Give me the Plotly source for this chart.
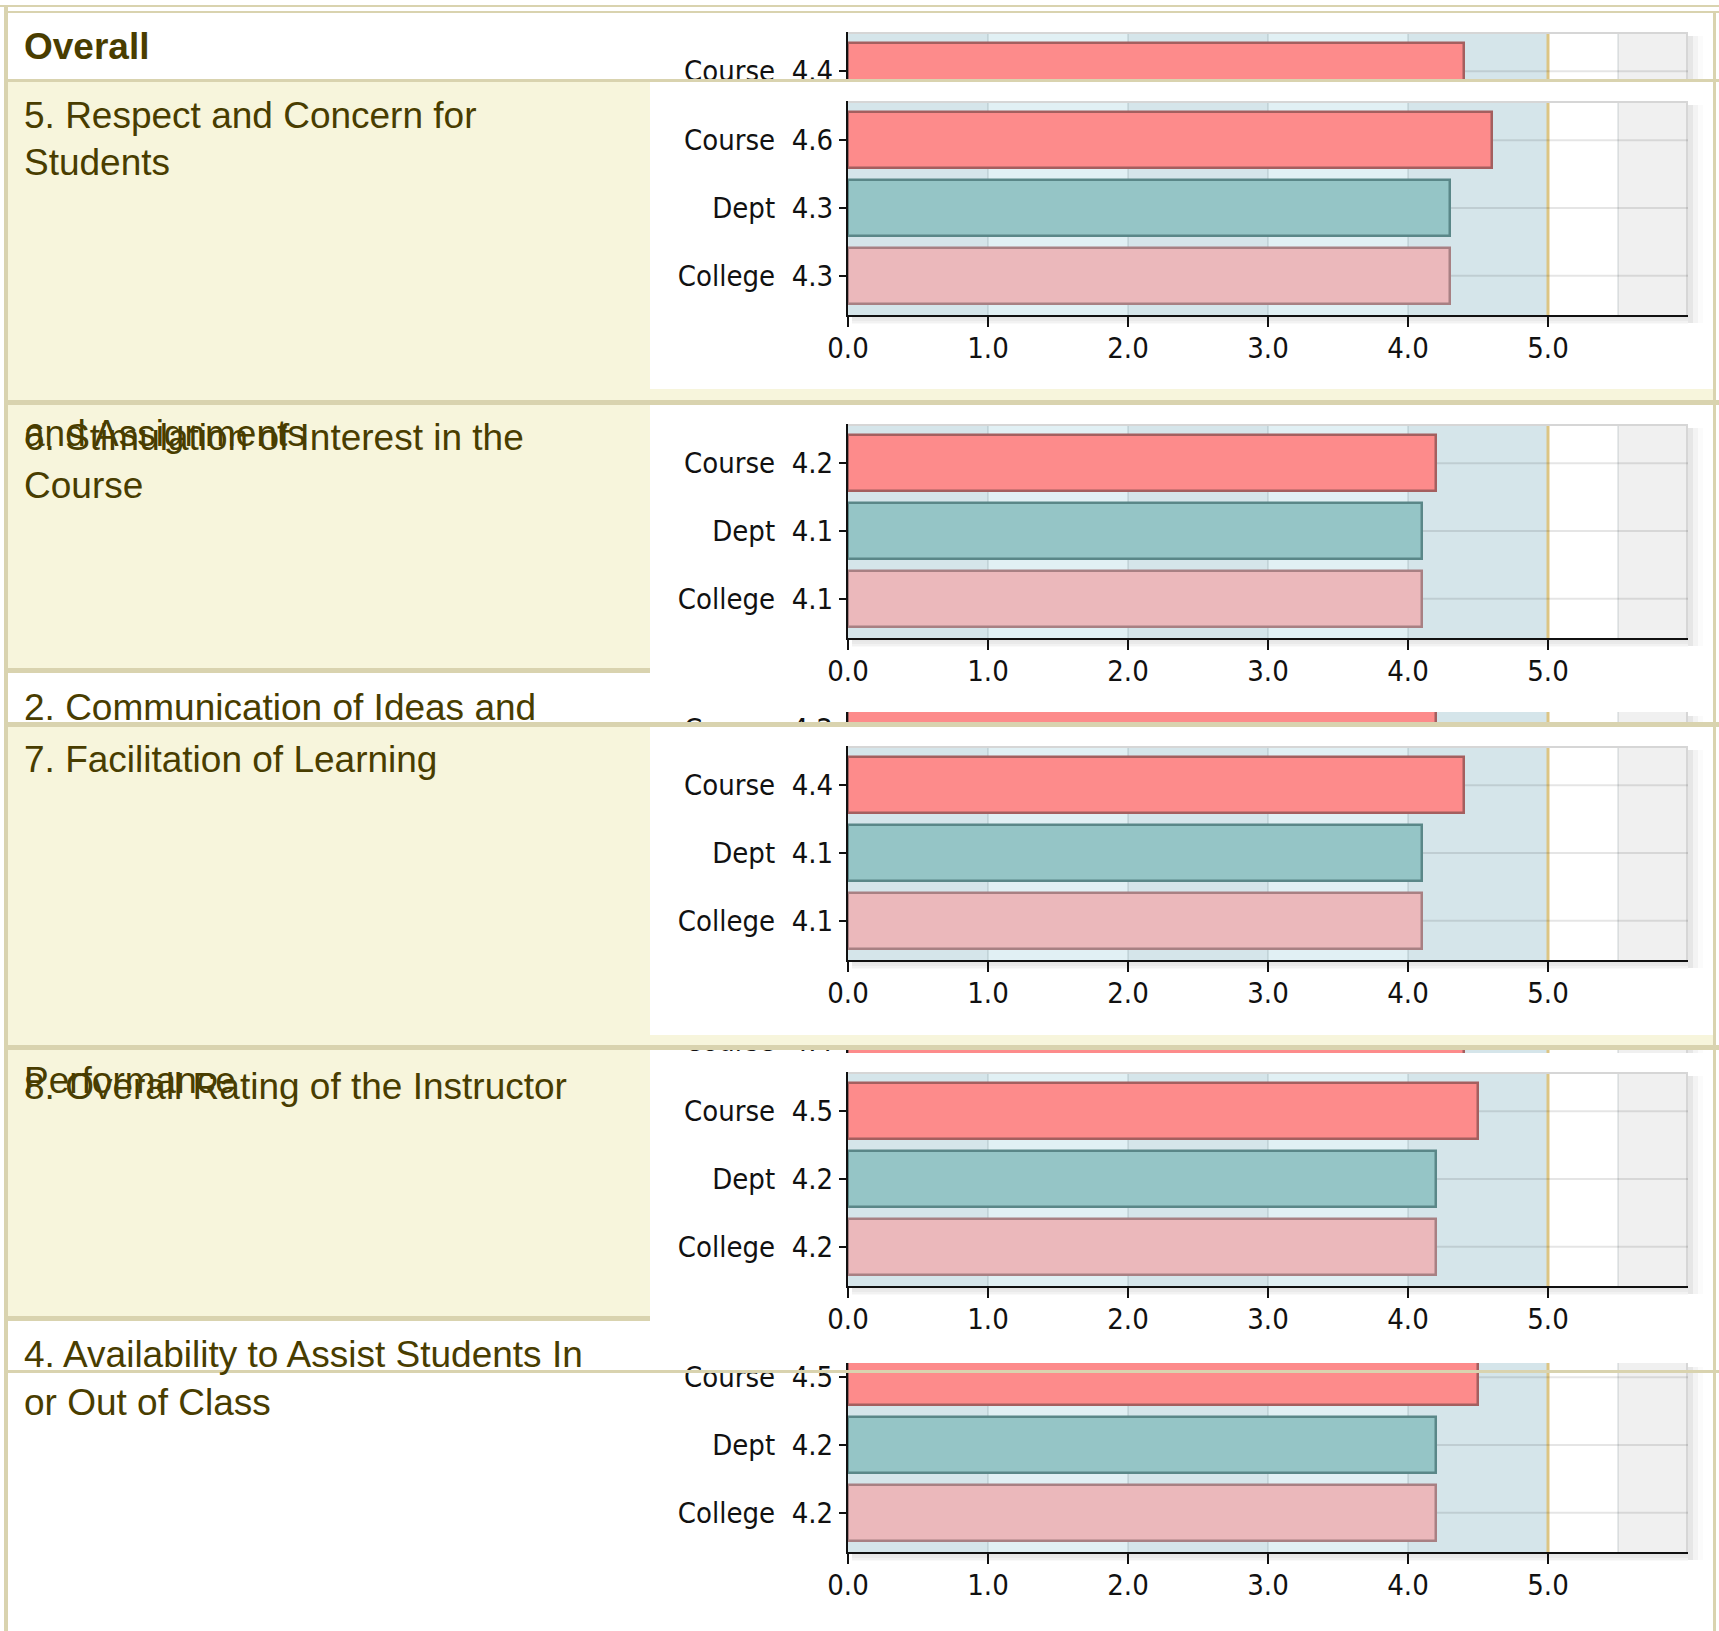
import plotly.graph_objects as go

W, H = 1719, 1631

# ---------------- data ----------------
categories = ["Course", "Dept", "College"]
overall_values = [4.4]
respect_values = [4.6, 4.3, 4.3]
stimulation_values = [4.2, 4.1, 4.1]
communication_values = [4.2]
facilitation_values = [4.4, 4.1, 4.1]
performance_values = [4.4]
instructor_values = [4.5, 4.2, 4.2]
availability_values = [4.5, 4.2, 4.2]
x_tick_values = [0, 1, 2, 3, 4, 5]
x_tick_labels = ["0.0", "1.0", "2.0", "3.0", "4.0", "5.0"]

title_overall = ["Overall"]
title_respect = ["5. Respect and Concern for", "Students"]
title_assign_overflow = ["and Assignments"]
title_stimulation = ["6. Stimulation of Interest in the", "Course"]
title_communication = ["2. Communication of Ideas and"]
title_facilitation = ["7. Facilitation of Learning"]
title_perf_overflow = ["Performance"]
title_instructor = ["8. Overall Rating of the Instructor"]
title_availability = ["4. Availability to Assist Students In", "or Out of Class"]

# ---------------- style ----------------
CREAM = "#f7f5dc"
TAN = "#d9d3af"
TEXT = "#493d00"
BAR_FILL = {"Course": "#fd8b8b", "Dept": "#95c5c6", "College": "#ebb8bb"}
BAR_LINE = {"Course": "#a45f5f", "Dept": "#5a8788", "College": "#a88083"}
BAND_DARK = "#d5e5ea"
BAND_LIGHT = "#e1f0f4"
LABEL_FONT = "DejaVu Sans Condensed, Liberation Sans Narrow, Arial Narrow, sans-serif"
TITLE_FONT = "Liberation Sans, Arial, sans-serif"
LABEL_SIZE = 29

PX0, PX1 = 848, 1688          # plot area in pixels
PLOT_H = 214
Y_TOP, Y_BOT = 2.58, -0.58
K = (Y_TOP - Y_BOT) / PLOT_H


def xp(x):
    return x / W


def yp(y):
    return 1 - y / H


# (values, nominal plot top, visible top, visible bottom, show x axis, top border)
charts = [
    (overall_values, 32, 32, 79, False, True),
    (respect_values, 101, 101, 315, True, True),
    (stimulation_values, 424, 424, 638, True, True),
    (communication_values, 690, 712, 745, False, False),
    (facilitation_values, 746, 746, 960, True, True),
    (performance_values, 1002, 1035, 1070, False, False),
    (instructor_values, 1072, 1072, 1286, True, True),
    (availability_values, 1338, 1363, 1552, True, False),
]

fig = go.Figure()
shapes = []
layout_axes = {}

for i, (vals, T, d0, d1, show_x, top_border) in enumerate(charts, start=1):
    sx = "" if i == 1 else str(i)
    xa, ya = "x" + sx, "y" + sx
    n = len(vals)
    cats = categories[:n]
    ypos = [2, 1, 0][:n]
    fig.add_trace(go.Bar(
        x=vals, y=ypos, orientation="h", width=0.83,
        marker=dict(color=[BAR_FILL[c] for c in cats],
                    line=dict(color=[BAR_LINE[c] for c in cats], width=2.5)),
        xaxis=xa, yaxis=ya, showlegend=False, hoverinfo="skip",
    ))
    r_top = Y_TOP - (d0 - T) * K
    r_bot = Y_TOP - (d1 - T) * K
    xaxis = dict(domain=[xp(PX0), xp(PX1)], range=[0, 6], anchor=ya, automargin=False,
                 showgrid=False, zeroline=False, fixedrange=True)
    if show_x:
        xaxis.update(tickmode="array", tickvals=x_tick_values, ticktext=x_tick_labels,
                     ticks="outside", ticklen=10, tickwidth=2, tickcolor="#111",
                     showline=True, linecolor="#111", linewidth=2,
                     tickfont=dict(family=LABEL_FONT, size=LABEL_SIZE, color="#111"))
    else:
        xaxis.update(showticklabels=False, ticks="", showline=False)
    yaxis = dict(domain=[yp(d1), yp(d0)], range=[r_bot, r_top], anchor=xa, automargin=False,
                 tickmode="array", tickvals=ypos,
                 ticktext=[f"{c}\u00a0 {v:.1f}" for c, v in zip(cats, vals)],
                 ticks="outside", ticklen=7, tickwidth=2, tickcolor="#111",
                 showline=True, linecolor="#111", linewidth=2,
                 showgrid=False, zeroline=False, fixedrange=True,
                 tickfont=dict(family=LABEL_FONT, size=LABEL_SIZE, color="#111"))
    layout_axes["xaxis" + sx] = xaxis
    layout_axes["yaxis" + sx] = yaxis

    yd = ya + " domain"
    for a, b, col in [(0, 1, BAND_DARK), (1, 2, BAND_LIGHT), (2, 3, BAND_DARK),
                      (3, 4, BAND_LIGHT), (4, 5, BAND_DARK), (5.5, 6, "#f0f0f0")]:
        shapes.append(dict(type="rect", xref=xa, yref=yd, x0=a, x1=b, y0=0, y1=1,
                           fillcolor=col, line_width=0, layer="below"))
    for gx in [1, 2, 3, 4, 5.5]:
        shapes.append(dict(type="line", xref=xa, yref=yd, x0=gx, x1=gx, y0=0, y1=1,
                           line=dict(color="rgba(70,90,100,0.13)", width=2), layer="below"))
    for gy in [2, 1, 0]:
        shapes.append(dict(type="line", xref=xa, yref=ya, x0=0, x1=6, y0=gy, y1=gy,
                           line=dict(color="rgba(0,0,0,0.10)", width=2), layer="below"))
    shapes.append(dict(type="line", xref=xa, yref=yd, x0=5, x1=5, y0=0, y1=1,
                       line=dict(color="#dcc584", width=3), layer="below"))
    if top_border:
        shapes.append(dict(type="line", xref="paper", yref="paper",
                           x0=xp(PX0), x1=xp(PX1), y0=yp(d0 + 1), y1=yp(d0 + 1),
                           line=dict(color="#d6d6d6", width=2), layer="below"))
    shapes.append(dict(type="line", xref="paper", yref="paper",
                       x0=xp(PX1 - 1), x1=xp(PX1 - 1), y0=yp(d0), y1=yp(d1),
                       line=dict(color="#d6d6d6", width=2), layer="below"))
    sh_bot = d1 + 8 if show_x else d1
    for k, (w, a) in enumerate([(5, 0.05), (10, 0.03), (15, 0.015)]):
        shapes.append(dict(type="rect", xref="paper", yref="paper",
                           x0=xp(PX1), x1=xp(PX1 + w), y0=yp(sh_bot), y1=yp(d0 + 4),
                           fillcolor=f"rgba(0,0,0,{a})", line_width=0, layer="below"))
        if show_x:
            shapes.append(dict(type="rect", xref="paper", yref="paper",
                               x0=xp(PX0 + 4), x1=xp(PX1), y0=yp(d1 + 1 + (3 - k) * 2.5),
                               y1=yp(d1 + 1),
                               fillcolor=f"rgba(0,0,0,{a})", line_width=0, layer="below"))


def prect(x0, y0, x1, y1, color, layer="above"):
    shapes.append(dict(type="rect", xref="paper", yref="paper",
                       x0=xp(x0), x1=xp(x1), y0=yp(y1), y1=yp(y0),
                       fillcolor=color, line_width=0, layer=layer))


# left cream panels
prect(8, 82, 650, 400, CREAM, "below")
prect(8, 405, 650, 668, CREAM, "below")
prect(8, 727, 650, 1045, CREAM, "below")
prect(8, 1050, 650, 1316, CREAM, "below")

# masks / overlapping table cells (drawn above the charts)
prect(650, 82, 1713, 100, "white")
prect(650, 389, 1713, 400, CREAM)
prect(650, 727, 1713, 745, "white")
prect(650, 1009, 846, 1035, "white")
prect(650, 1035, 1713, 1045, CREAM)
prect(650, 1053, 1713, 1071, "white")

# table borders
prect(0, 5, W, 7, TAN)
prect(6, 11, W, 13, TAN)
prect(6, 79, W, 82, TAN)
prect(6, 400, W, 405, TAN)
prect(6, 668, 650, 673, TAN)
prect(6, 722, W, 727, TAN)
prect(6, 1045, W, 1050, TAN)
prect(6, 1316, 650, 1321, TAN)
prect(6, 1370, W, 1373, TAN)
prect(4, 5, 8, H, TAN)
prect(1713, 11, 1716, H, TAN)

# ---------------- row titles ----------------
annotations = []


def add_title(lines, first_center, bold=False, step=48):
    for j, t in enumerate(lines):
        annotations.append(dict(
            text=f"<b>{t}</b>" if bold else t, xref="paper", yref="paper",
            x=xp(22), y=yp(first_center + j * step), xanchor="left", yanchor="middle",
            showarrow=False, font=dict(family=TITLE_FONT, size=37, color=TEXT)))


add_title(title_overall, 47, bold=True)
add_title(title_respect, 115)
add_title(title_assign_overflow, 433)
add_title(title_stimulation, 438)
add_title(title_communication, 707)
add_title(title_facilitation, 760)
add_title(title_perf_overflow, 1080)
add_title(title_instructor, 1086)
add_title(title_availability, 1354)

fig.update_layout(
    width=W, height=H, autosize=False,
    margin=dict(l=0, r=0, t=0, b=0, pad=0, autoexpand=False),
    paper_bgcolor="white", plot_bgcolor="rgba(0,0,0,0)",
    shapes=shapes, annotations=annotations, bargap=0, showlegend=False,
    **layout_axes,
)

# pull the x tick labels slightly closer to the axis, if supported
try:
    for i, c in enumerate(charts, start=1):
        if c[4]:
            fig.layout["xaxis" + ("" if i == 1 else str(i))].ticklabelstandoff = -4
except Exception:
    pass

fig.write_html("out.html", config={"displayModeBar": False, "responsive": False},
               post_script="document.body.style.margin='0';document.body.style.overflow='hidden';")
